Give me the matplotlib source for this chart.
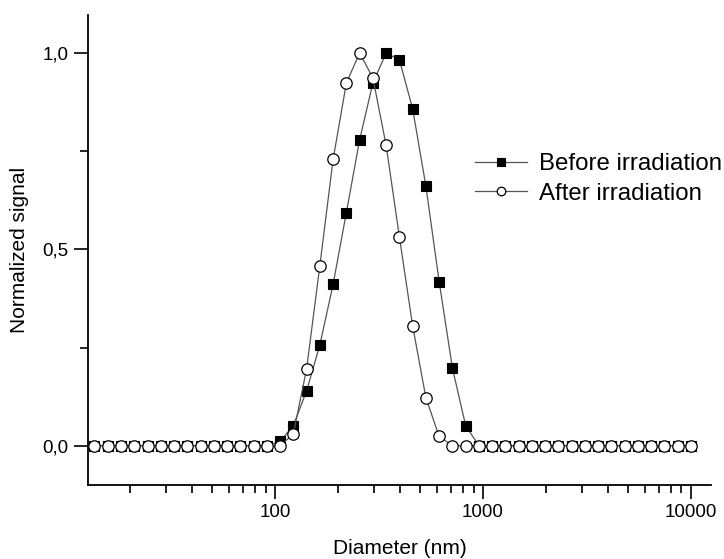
import matplotlib
matplotlib.use('Agg')
import matplotlib.pyplot as plt
from matplotlib.ticker import LogLocator, FixedLocator, NullFormatter, FuncFormatter

plt.rcParams['font.family'] = ['Liberation Sans', 'DejaVu Sans']

# size classes (nm)
diameter = [13.54, 15.69, 18.17, 21.04, 24.36, 28.21, 32.67, 37.84, 43.82, 50.75,
            58.77, 68.06, 78.82, 91.28, 105.7, 122.4, 141.8, 164.2, 190.1, 220.2,
            255.0, 295.3, 342.0, 396.1, 458.7, 531.2, 615.1, 712.4, 825.0, 955.4,
            1106, 1281, 1484, 1718, 1990, 2305, 2669, 3091, 3580, 4145,
            4801, 5560, 6439, 7456, 8635, 10000]

before = [0, 0, 0, 0, 0, 0, 0, 0, 0, 0, 0, 0, 0, 0,
          0.011, 0.051, 0.140, 0.257, 0.411, 0.594, 0.779, 0.924, 1.0, 0.983,
          0.858, 0.661, 0.418, 0.198, 0.051,
          0, 0, 0, 0, 0, 0, 0, 0, 0, 0, 0, 0, 0, 0, 0, 0, 0]

after = [0, 0, 0, 0, 0, 0, 0, 0, 0, 0, 0, 0, 0, 0,
         0, 0.030, 0.196, 0.459, 0.729, 0.924, 1.0, 0.937, 0.765, 0.532,
         0.305, 0.122, 0.024,
         0, 0, 0, 0, 0, 0, 0, 0, 0, 0, 0, 0, 0, 0, 0, 0, 0, 0, 0]

fig = plt.figure(figsize=(7.24, 5.59), dpi=100)
ax = fig.add_axes([88 / 724, 1 - 485 / 559, 623 / 724, 470 / 559])

ax.plot(diameter, before, color='#555555', lw=0.9, marker='s', ms=7.6,
        mfc='black', mec='black', mew=0.8, label='Before irradiation', zorder=2)
ax.plot(diameter, after, color='#555555', lw=0.9, marker='o', ms=8.2,
        mfc='white', mec='black', mew=0.9, label='After irradiation', zorder=3)

ax.set_xscale('log')
ax.set_xlim(12.6, 12480)
ax.set_ylim(-0.1, 1.097)

ax.xaxis.set_major_locator(FixedLocator([100, 1000, 10000]))
ax.xaxis.set_minor_locator(LogLocator(base=10, subs=range(2, 10)))
ax.xaxis.set_minor_formatter(NullFormatter())
ax.xaxis.set_major_formatter(FuncFormatter(lambda v, p: f'{int(v)}'))

ax.set_yticks([0, 0.5, 1.0])
ax.set_yticks([0.25, 0.75], minor=True)
ax.yaxis.set_major_formatter(FuncFormatter(lambda v, p: f'{v:.1f}'.replace('.', ',')))

for side in ['top', 'right']:
    ax.spines[side].set_visible(False)
for side in ['left', 'bottom']:
    ax.spines[side].set_linewidth(1.3)

ax.tick_params(which='major', direction='out', length=10, width=1.2, labelsize=13.5, pad=4)
ax.tick_params(which='minor', direction='out', length=5.5, width=1.2)

ax.set_xlabel('Diameter (nm)', fontsize=15, labelpad=13)
ax.set_ylabel('Normalized signal', fontsize=15, labelpad=10)

ax.legend(loc='center left', bbox_to_anchor=(0.602, 0.651), frameon=False,
          fontsize=17.3, handlelength=2.15, handletextpad=0.5, labelspacing=0.3,
          markerscale=0.75, borderpad=0)

fig.savefig('out.png', dpi=100)
